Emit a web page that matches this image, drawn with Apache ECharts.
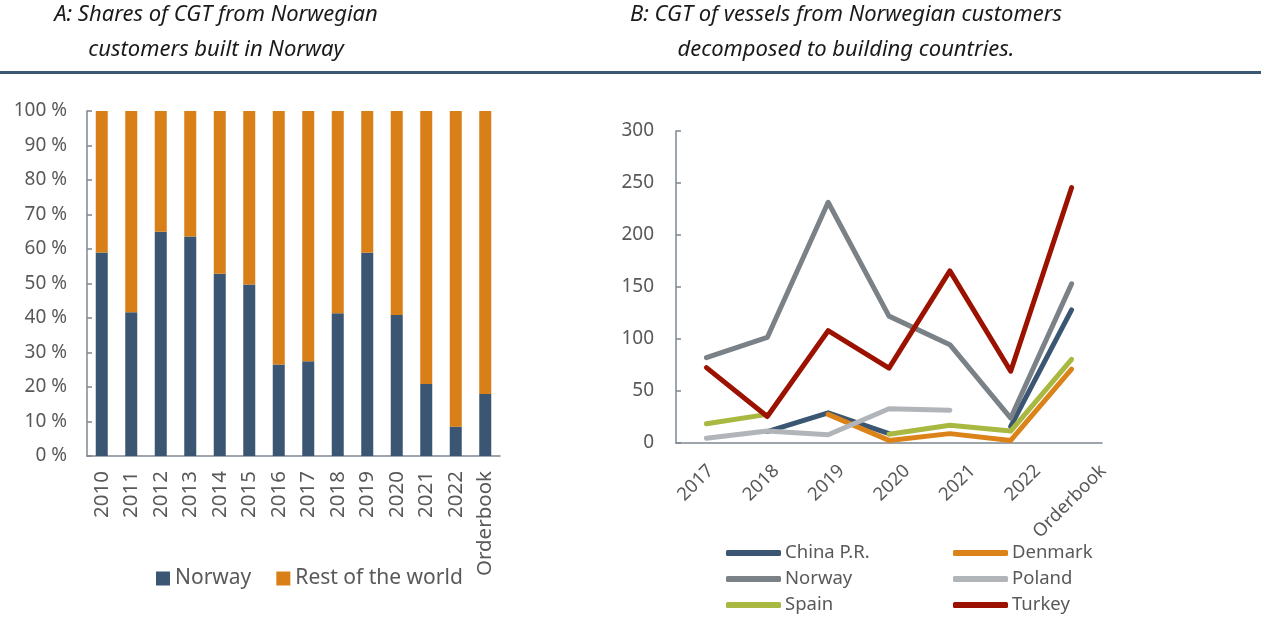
<!DOCTYPE html>
<html>
<head>
<meta charset="utf-8">
<title>CGT Norwegian customers</title>
<script src="https://cdn.jsdelivr.net/npm/echarts@6/dist/echarts.min.js"></script>
<style>
    html, body { margin: 0; padding: 0; background: #fff; }
    #main { width: 1261px; height: 617px; }
</style>
</head>
<body>
<div id="main"></div>
<script>
    // A: shares (%) of CGT built in Norway vs rest of the world
    var shareCats = ['2010','2011','2012','2013','2014','2015','2016','2017','2018','2019','2020','2021','2022','Orderbook'];
    var shareNorway = [59, 41.7, 65, 63.6, 52.8, 49.7, 26.5, 27.5, 41.4, 58.9, 40.9, 20.9, 8.5, 18];
    var shareRest   = [41, 58.3, 35, 36.4, 47.2, 50.3, 73.5, 72.5, 58.6, 41.1, 59.1, 79.1, 91.5, 82];

    // B: CGT (thousands) by building country
    var cgtCats = ['2017','2018','2019','2020','2021','2022','Orderbook'];
    var cgtChina   = [null, 11, 29, 9, null, 16, 128];
    var cgtDenmark = [null, null, 27.5, 2.5, 9, 2.5, 71];
    var cgtNorway  = [82, 101.5, 231.5, 122, 94.5, 24, 153];
    var cgtPoland  = [4.5, 11.5, 8, 33, 31.5, null, null];
    var cgtSpain   = [18.5, 27.5, null, 8.5, 17, 11.5, 80.5];
    var cgtTurkey  = [72.5, 25.5, 108, 72, 165.5, 69, 245.5];

    var axisCol = '#7f8790';
    var txtCol = '#595959';
    var fam = '"Noto Sans", sans-serif';
    var titleFont = 'italic 22px ' + fam;

    function lineSeries(name, data, color) {
        return {
            name: name, type: 'line', xAxisIndex: 1, yAxisIndex: 1,
            data: data, color: color, symbol: 'none', connectNulls: false,
            lineStyle: { width: 5, color: color, cap: 'round', join: 'round' }
        };
    }

    var myChart = echarts.init(document.getElementById('main'));

    myChart.setOption({
        animation: false,
        textStyle: { fontFamily: fam },
        graphic: [
            { type: 'text', style: { x: 216, y: 4, text: 'A: Shares of CGT from Norwegian', align: 'center', font: titleFont, fill: '#1a1a1a' } },
            { type: 'text', style: { x: 216, y: 39, text: 'customers built in Norway', align: 'center', font: titleFont, fill: '#1a1a1a' } },
            { type: 'text', style: { x: 846, y: 4, text: 'B: CGT of vessels from Norwegian customers', align: 'center', font: titleFont, fill: '#1a1a1a' } },
            { type: 'text', style: { x: 846, y: 39, text: 'decomposed to building countries.', align: 'center', font: titleFont, fill: '#1a1a1a' } },
            { type: 'rect', shape: { x: 0, y: 71, width: 1261, height: 3 }, style: { fill: '#3b5670' } }
        ],
        grid: [
            { left: 87, right: 761, top: 111, bottom: 161 },
            { left: 676, right: 159, top: 131, bottom: 174 },
            // label-only grid: the rotated year labels sit a little wider apart than the ticks
            { left: 678, right: 125, top: 131, bottom: 174 }
        ],
        legend: [
            {
                data: ['Norway', 'Rest of the world'],
                left: 156, top: 568, padding: 0, icon: 'rect', itemWidth: 14, itemHeight: 14, itemGap: 25,
                textStyle: { color: txtCol, fontSize: 21 }
            },
            {
                data: ['China P.R.', 'Norway ', 'Spain'],
                orient: 'vertical', left: 726, top: 543, padding: 0, icon: 'roundRect',
                itemWidth: 55, itemHeight: 6, itemGap: 6,
                textStyle: { color: txtCol, fontSize: 18.5, lineHeight: 20, padding: [0, 0, 0, -1] }
            },
            {
                data: ['Denmark', 'Poland', 'Turkey'],
                orient: 'vertical', left: 953, top: 543, padding: 0, icon: 'roundRect',
                itemWidth: 55, itemHeight: 6, itemGap: 6,
                textStyle: { color: txtCol, fontSize: 18.5, lineHeight: 20, padding: [0, 0, 0, -1] }
            }
        ],
        xAxis: [
            {
                type: 'category', gridIndex: 0, data: shareCats,
                axisLine: { lineStyle: { color: axisCol, width: 1.5 } },
                axisTick: { inside: true, length: 5, lineStyle: { color: axisCol, width: 1.5 } },
                axisLabel: { rotate: 90, color: txtCol, fontSize: 20.5, margin: 15, interval: 0 }
            },
            {
                type: 'category', gridIndex: 1, data: cgtCats,
                axisLine: { lineStyle: { color: axisCol, width: 1.5 } },
                axisTick: { inside: true, length: 5, lineStyle: { color: axisCol, width: 1.5 } },
                axisLabel: { show: false }
            },
            {
                type: 'category', gridIndex: 2, data: cgtCats,
                axisLine: { show: false },
                axisTick: { show: false },
                axisLabel: { rotate: 45, color: txtCol, fontSize: 18.5, margin: 25, interval: 0 }
            }
        ],
        yAxis: [
            {
                type: 'value', gridIndex: 0, min: 0, max: 100, interval: 10,
                axisLine: { show: true, lineStyle: { color: axisCol, width: 1.5 } },
                axisTick: { show: true, inside: true, length: 5, lineStyle: { color: axisCol, width: 1.5 } },
                splitLine: { show: false },
                axisLabel: { color: txtCol, fontSize: 19, margin: 20, formatter: '{value} %' }
            },
            {
                type: 'value', gridIndex: 1, min: 0, max: 300, interval: 50,
                axisLine: { show: true, lineStyle: { color: axisCol, width: 1.5 } },
                axisTick: { show: true, inside: true, length: 5, lineStyle: { color: axisCol, width: 1.5 } },
                splitLine: { show: false },
                axisLabel: { color: txtCol, fontSize: 19, margin: 22 }
            },
            {
                type: 'value', gridIndex: 2, min: 0, max: 300, show: false
            }
        ],
        series: [
            { name: 'Norway', type: 'bar', stack: 'share', xAxisIndex: 0, yAxisIndex: 0, barWidth: 12, data: shareNorway, color: '#3a5672' },
            { name: 'Rest of the world', type: 'bar', stack: 'share', xAxisIndex: 0, yAxisIndex: 0, barWidth: 12, data: shareRest, color: '#d97f18' },
            lineSeries('China P.R.', cgtChina, '#3a5672'),
            lineSeries('Denmark', cgtDenmark, '#db8219'),
            lineSeries('Norway ', cgtNorway, '#7a8187'),
            lineSeries('Poland', cgtPoland, '#b1b5b9'),
            lineSeries('Spain', cgtSpain, '#a8b840'),
            lineSeries('Turkey', cgtTurkey, '#9b1300')
        ]
    });

    window.addEventListener("resize", function () {
        myChart.resize();
    });
</script>
</body>
</html>
